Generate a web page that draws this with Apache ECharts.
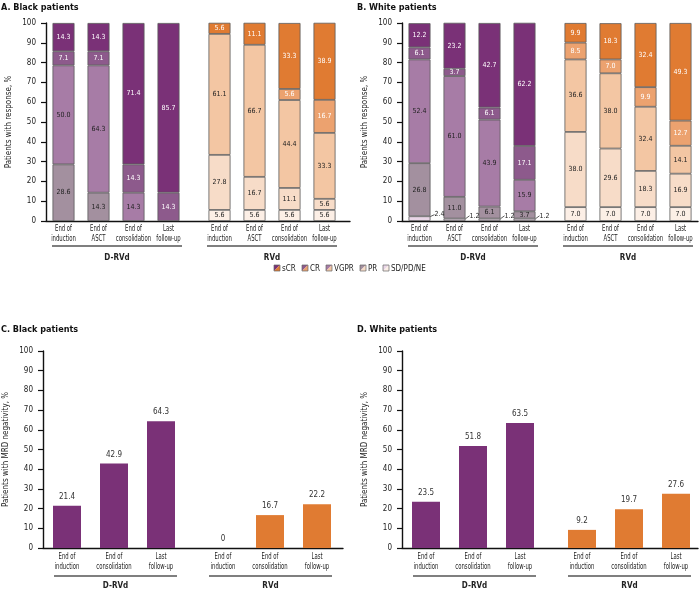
<!DOCTYPE html>
<html>
<head>
<meta charset="utf-8">
<script src="https://cdn.jsdelivr.net/npm/echarts@6/dist/echarts.min.js"></script>
<style>html,body{margin:0;padding:0;background:#fff}#c{width:700px;height:590px}</style>
</head>
<body>
<div id="c"></div>
<script>
// ---------- DATA ----------
const levels = ['SD/PD/NE', 'PR', 'VGPR', 'CR', 'sCR'];
const respCats = ['End of\ninduction', 'End of\nASCT', 'End of\nconsolidation', 'Last\nfollow-up'];
const mrdCats = ['End of\ninduction', 'End of\nconsolidation', 'Last\nfollow-up'];

// rows follow `levels`: SD/PD/NE, PR, VGPR, CR, sCR; columns follow respCats
const respBlackDRVd = [
  [0, 0, 0, 0],
  [28.6, 14.3, 0, 0],
  [50.0, 64.3, 14.3, 0],
  [7.1, 7.1, 14.3, 14.3],
  [14.3, 14.3, 71.4, 85.7]
];
const respBlackRVd = [
  [5.6, 5.6, 5.6, 5.6],
  [27.8, 16.7, 11.1, 5.6],
  [61.1, 66.7, 44.4, 33.3],
  [0, 0, 5.6, 16.7],
  [5.6, 11.1, 33.3, 38.9]
];
const respWhiteDRVd = [
  [2.4, 1.2, 1.2, 1.2],
  [26.8, 11.0, 6.1, 3.7],
  [52.4, 61.0, 43.9, 15.9],
  [6.1, 3.7, 6.1, 17.1],
  [12.2, 23.2, 42.7, 62.2]
];
const respWhiteRVd = [
  [7.0, 7.0, 7.0, 7.0],
  [38.0, 29.6, 18.3, 16.9],
  [36.6, 38.0, 32.4, 14.1],
  [8.5, 7.0, 9.9, 12.7],
  [9.9, 18.3, 32.4, 49.3]
];

const mrdBlackDRVd = [21.4, 42.9, 64.3];
const mrdBlackRVd = [0, 16.7, 22.2];
const mrdWhiteDRVd = [23.5, 51.8, 63.5];
const mrdWhiteRVd = [9.2, 19.7, 27.6];

// ---------- STYLE ----------
const FONT = "'DejaVu Sans Condensed','DejaVu Sans',sans-serif";
const purple = ['#e9d6e7', '#a3909f', '#a77ca6', '#8d5a8c', '#7a3177'];
const orange = ['#fcefe6', '#f7dcc8', '#f3c6a3', '#eca26f', '#e07b32'];
const whiteLabel = [false, false, false, true, true];
const TXT = '#222';

const grids = [], xAxes = [], yAxes = [], series = [], graphics = [];

function addPanel(cfg) {
  const base = grids.length;
  grids.push({ left: cfg.x0, top: cfg.top, width: cfg.fullW, height: cfg.h });
  xAxes.push({ gridIndex: base, type: 'value', min: 0, max: 1, axisLine: { show: true, lineStyle: { color: '#111', width: 1.4 } }, axisTick: { show: false }, axisLabel: { show: false }, splitLine: { show: false } });
  yAxes.push({ gridIndex: base, type: 'value', min: 0, max: 100, interval: 10,
    name: cfg.yName, nameLocation: 'middle', nameGap: 33, nameRotate: 90,
    nameTextStyle: { fontFamily: FONT, fontSize: 8, color: TXT },
    axisLine: { show: true, lineStyle: { color: '#111', width: 1.4 } },
    axisTick: { show: true, length: 5, lineStyle: { color: '#111', width: 1.2 } },
    axisLabel: { fontFamily: FONT, fontSize: 8, color: TXT, margin: 10 },
    splitLine: { show: false } });
  const w = cfg.cats.length * cfg.catW;
  [cfg.dLeft, cfg.rLeft].forEach((l) => {
    const gi = grids.length;
    grids.push({ left: cfg.x0 + l, top: cfg.top, width: w, height: cfg.h });
    xAxes.push({ gridIndex: gi, type: 'category', data: cfg.cats,
      axisLine: { show: false }, axisTick: { show: false },
      axisLabel: { interval: 0, fontFamily: FONT, fontSize: 8, lineHeight: 10, color: TXT, margin: cfg.labelMargin } });
    yAxes.push({ gridIndex: gi, type: 'value', min: 0, max: 100, show: false });
  });
  return base;
}

function addStacked(gi, data, colors, stack, bw) {
  data.forEach((row, li) => {
    series.push({
      type: 'bar', xAxisIndex: gi, yAxisIndex: gi, stack: stack, barWidth: bw,
      name: levels[li],
      itemStyle: { color: colors[li], borderColor: '#5c5c5c', borderWidth: 0.8 },
      label: { show: true, position: 'inside', fontFamily: FONT, fontSize: 7,
        color: whiteLabel[li] ? '#fff' : TXT,
        formatter: (p) => (p.value == null ? '' : p.value.toFixed(1)) },
      labelLine: { show: true, lineStyle: { color: '#333', width: 0.8 } },
      labelLayout: (p) => (parseFloat(p.text) < 3 ? { dx: 3, dy: -4 } : {}),
      data: row.map((v) => {
        if (!v) return null;
        if (v < 3) return { value: v, label: { position: 'right', distance: 1 } };
        return v;
      })
    });
  });
}

function addMrd(gi, data, color) {
  series.push({
    type: 'bar', xAxisIndex: gi, yAxisIndex: gi, barWidth: 28,
    itemStyle: { color: color },
    label: { show: true, position: 'top', distance: 5, fontFamily: FONT, fontSize: 8, color: '#333',
      formatter: (p) => (p.value === 0 ? '0' : p.value.toFixed(1)) },
    data: data
  });
}

function brackets(x0, y, d, r, labelY) {
  [[d, 'D-RVd'], [r, 'RVd']].forEach(([seg, txt]) => {
    graphics.push({ type: 'line', shape: { x1: x0 + seg[0], y1: y, x2: x0 + seg[1], y2: y }, style: { stroke: '#555', lineWidth: 1.6 } });
    graphics.push({ type: 'text', x: x0 + (seg[0] + seg[1]) / 2, y: labelY,
      style: { text: txt, fontFamily: FONT, fontSize: 8, fontWeight: 'bold', fill: TXT, align: 'center', verticalAlign: 'middle' } });
  });
}

const topCfg = { top: 23, h: 198, cats: respCats, catW: 35, dLeft: 0, rLeft: 156, labelMargin: 3, yName: 'Patients with response, %' };
const gA = addPanel(Object.assign({ x0: 46, fullW: 304 }, topCfg));
const gB = addPanel(Object.assign({ x0: 402, fullW: 296 }, topCfg));
addStacked(gA + 1, respBlackDRVd, purple, 'AD', 22);
addStacked(gA + 2, respBlackRVd, orange, 'AR', 22);
addStacked(gB + 1, respWhiteDRVd, purple, 'BD', 22);
addStacked(gB + 2, respWhiteRVd, orange, 'BR', 22);
brackets(46, 246, [6, 136], [161, 291], 258);
brackets(402, 246, [6, 136], [161, 291], 258);

const botCfg = { top: 351, h: 197, cats: mrdCats, catW: 47, dLeft: 0.5, rLeft: 156.5, labelMargin: 4, yName: 'Patients with MRD negativity, %' };
const gC = addPanel(Object.assign({ x0: 43, fullW: 300 }, botCfg));
const gD = addPanel(Object.assign({ x0: 402, fullW: 296 }, botCfg));
addMrd(gC + 1, mrdBlackDRVd, purple[4]);
addMrd(gC + 2, mrdBlackRVd, orange[4]);
addMrd(gD + 1, mrdWhiteDRVd, purple[4]);
addMrd(gD + 2, mrdWhiteRVd, orange[4]);
brackets(43, 576, [11, 134], [166, 289], 586);
brackets(402, 576, [11, 134], [166, 289], 586);

// Legend (split swatches: D-RVd colour / RVd colour), laid out by measured text width, centred at 350
const cv = document.createElement('canvas').getContext('2d');
const legendOrder = [4, 3, 2, 1, 0];
const ly = 268, sw = 6, legFont = 8, itemGap = 6;
cv.font = legFont + 'px ' + FONT;
const itemW = legendOrder.map(li => sw + 2 + cv.measureText(levels[li]).width);
const totalW = itemW.reduce((a, b) => a + b, 0) + itemGap * (legendOrder.length - 1);
let lx = 350 - totalW / 2;
legendOrder.forEach((li, k) => {
  const x = Math.round(lx), y0 = ly - sw / 2;
  graphics.push({ type: 'polygon', shape: { points: [[x, y0], [x + sw, y0], [x, y0 + sw]] }, style: { fill: purple[li] } });
  graphics.push({ type: 'polygon', shape: { points: [[x + sw, y0], [x + sw, y0 + sw], [x, y0 + sw]] }, style: { fill: orange[li] } });
  graphics.push({ type: 'rect', shape: { x: x, y: y0, width: sw, height: sw }, style: { fill: 'none', stroke: '#666', lineWidth: 0.7 } });
  graphics.push({ type: 'text', x: x + sw + 2, y: ly + 0.5,
    style: { text: levels[li], fontFamily: FONT, fontSize: legFont, fill: TXT, verticalAlign: 'middle' } });
  lx += itemW[k] + itemGap;
});

const titleStyle = { fontFamily: FONT, fontSize: 9, fontWeight: 'bold', color: '#111' };
const option = {
  animation: false,
  textStyle: { fontFamily: FONT },
  title: [
    { text: 'A. Black patients', left: 1, top: 3, textStyle: titleStyle, padding: 0 },
    { text: 'B. White patients', left: 357, top: 3, textStyle: titleStyle, padding: 0 },
    { text: 'C. Black patients', left: 1, top: 325, textStyle: titleStyle, padding: 0 },
    { text: 'D. White patients', left: 357, top: 325, textStyle: titleStyle, padding: 0 }
  ],
  grid: grids, xAxis: xAxes, yAxis: yAxes, series: series, graphic: graphics
};
const chart = echarts.init(document.getElementById('c'), null, { renderer: 'canvas' });
chart.setOption(option);

// Narrow the category labels horizontally (the original uses an extra-condensed face)
(function condenseCategoryLabels() {
  const names = new Set(respCats.concat(mrdCats));
  const zr = chart.getZr();
  zr.storage.getRoots().forEach(function (root) {
    const visit = function (el) {
      if (el.type === 'text' && el.style && names.has(el.style.text)) {
        el.scaleX = 0.74;
        el.markRedraw();
      }
    };
    visit(root);
    if (root.traverse) root.traverse(visit);
  });
  zr.refreshImmediately();
})();
</script>
</body>
</html>
